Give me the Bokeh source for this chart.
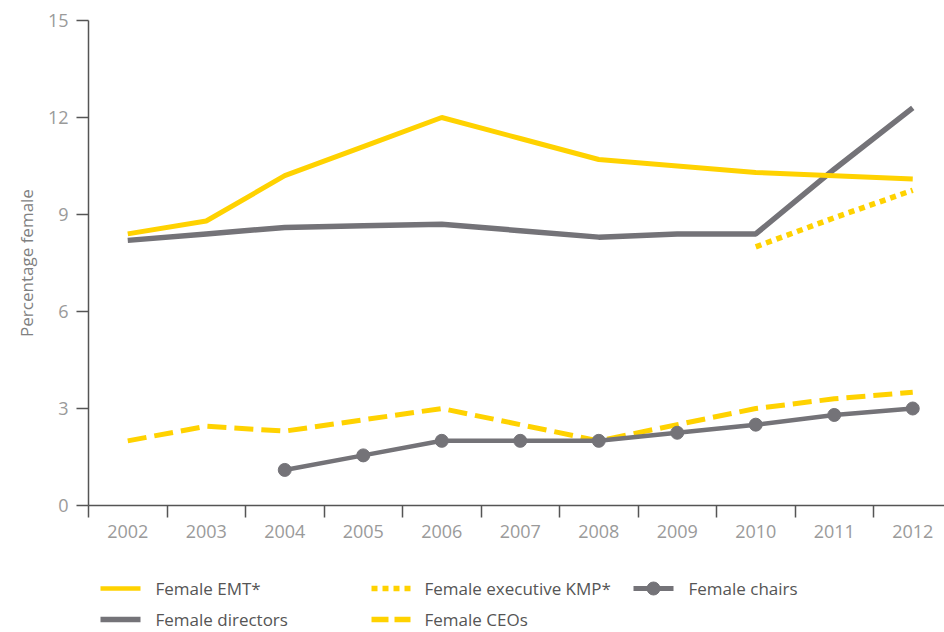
from bokeh.plotting import figure
from bokeh.models import Range1d, FixedTicker
from bokeh.layouts import column
from bokeh.embed import file_html
from bokeh.resources import INLINE
from bokeh.core.properties import value

years = [2002, 2003, 2004, 2005, 2006, 2007, 2008, 2009, 2010, 2011, 2012]
emt = [8.4, 8.8, 10.2, 11.1, 12.0, 11.35, 10.7, 10.5, 10.3, 10.2, 10.1]
directors = [8.2, 8.4, 8.6, 8.65, 8.7, 8.5, 8.3, 8.4, 8.4, 10.4, 12.3]
kmp_years = [2010, 2011, 2012]
kmp = [8.0, 8.9, 9.75]
ceos = [2.0, 2.45, 2.3, 2.65, 3.0, 2.5, 2.0, 2.5, 3.0, 3.3, 3.5]
chair_years = [2004, 2005, 2006, 2007, 2008, 2009, 2010, 2011, 2012]
chairs = [1.1, 1.55, 2.0, 2.0, 2.0, 2.25, 2.5, 2.8, 3.0]
y_ticks = [0, 3, 6, 9, 12, 15]
y_label = "Percentage female"
legend_labels = ["Female EMT*", "Female executive KMP*", "Female chairs",
                 "Female directors", "Female CEOs"]

YELLOW = "#FFD200"
GRAY = "#747378"
AXIS = "#555555"
TICKLBL = "#9a9a9a"
FONT = "Open Sans"

W = 944
p = figure(width=W, height=553, output_backend="svg", toolbar_location=None,
           x_range=Range1d(2001.5, 2001.5 + (W - 88) / 78.5), y_range=Range1d(0, 15),
           min_border_left=88, min_border_right=0, min_border_top=20,
           min_border_bottom=48)
p.outline_line_color = None
p.xgrid.grid_line_color = None
p.ygrid.grid_line_color = None
p.background_fill_color = "white"

p.line(years, directors, line_color=GRAY, line_width=5.5)
p.line(years, emt, line_color=YELLOW, line_width=5)
p.line(kmp_years, kmp, line_color=YELLOW, line_width=5.5, line_dash="6 5")
p.line(years, ceos, line_color=YELLOW, line_width=5, line_dash="19 8")
p.line(chair_years, chairs, line_color=GRAY, line_width=4.5)
p.scatter(chair_years, chairs, size=13, fill_color=GRAY, line_color=GRAY)

# x axis
xa = p.xaxis[0]
xa.ticker = FixedTicker(ticks=years, minor_ticks=[y - 0.5 for y in years])
xa.major_tick_out = 0
xa.major_tick_in = 0
xa.minor_tick_out = 12
xa.minor_tick_in = 0
xa.minor_tick_line_color = AXIS
xa.minor_tick_line_width = 1.5
xa.axis_line_color = AXIS
xa.axis_line_width = 1.5
xa.major_label_text_font = FONT
xa.major_label_text_font_size = "18px"
xa.major_label_text_color = TICKLBL
xa.major_label_standoff = 7

ya = p.yaxis[0]
ya.ticker = FixedTicker(ticks=y_ticks)
ya.minor_tick_line_color = None
ya.major_tick_out = 12
ya.major_tick_in = 0
ya.major_tick_line_color = AXIS
ya.major_tick_line_width = 1.5
ya.axis_line_color = AXIS
ya.axis_line_width = 1.5
ya.major_label_text_font = FONT
ya.major_label_text_font_size = "18px"
ya.major_label_text_color = TICKLBL
ya.major_label_standoff = 8
ya.axis_label = y_label
ya.axis_label_text_font = FONT
ya.axis_label_text_font_size = "17px"
ya.axis_label_text_font_style = "normal"
ya.axis_label_text_color = "#808080"
ya.axis_label_standoff = 7

# legend panel (page pixel coordinates; frame aligned with main frame)
LH = 77
lg = figure(width=W, height=LH, output_backend="svg", toolbar_location=None,
            x_range=Range1d(88, W), y_range=Range1d(553 + LH, 553),
            min_border_left=88, min_border_right=0, min_border_top=0,
            min_border_bottom=0)
lg.outline_line_color = None
lg.axis.visible = False
lg.xgrid.grid_line_color = None
lg.ygrid.grid_line_color = None

r1, r2 = 588, 619
lg.line([100, 140], [r1, r1], line_color=YELLOW, line_width=4.5)
lg.line([371, 410], [r1, r1], line_color=YELLOW, line_width=5.5, line_dash="6 5")
lg.line([633, 673], [r1, r1], line_color=GRAY, line_width=5)
lg.scatter([653], [r1], size=13, fill_color=GRAY, line_color=GRAY)
lg.line([100, 140], [r2, r2], line_color=GRAY, line_width=5.5)
lg.line([371, 410], [r2, r2], line_color=YELLOW, line_width=5.5, line_dash="17 6")

lg.text([155, 424, 688, 155, 424], [r1, r1, r1, r2, r2], text=legend_labels,
        text_font=value(FONT), text_font_size="17px", text_color="#555555",
        text_baseline="middle", text_align="left")

layout = column(p, lg, spacing=0)
open("out.html", "w").write(file_html(layout, INLINE))
